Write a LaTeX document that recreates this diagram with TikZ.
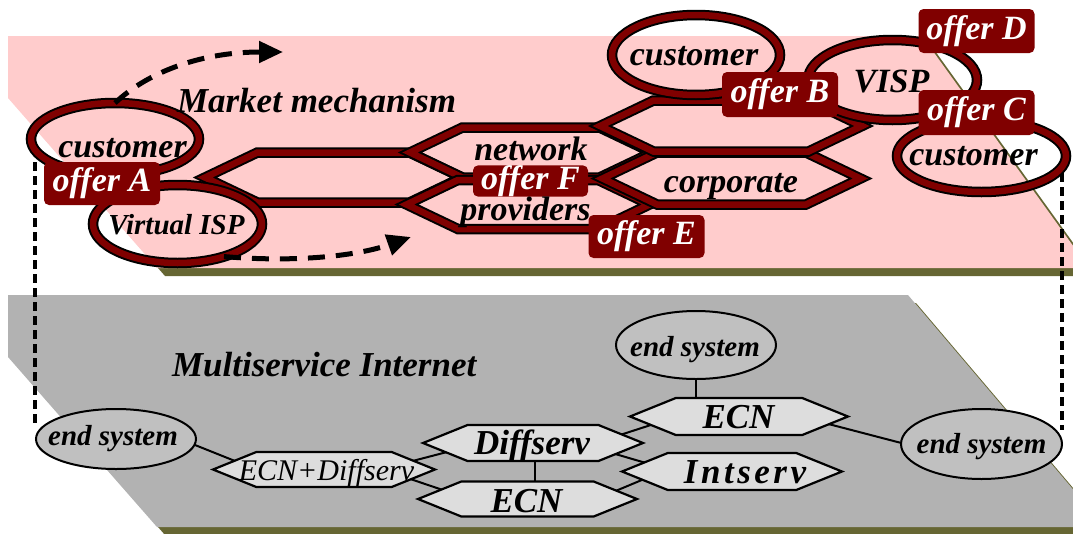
\documentclass[tikz,border=0pt]{standalone}
\usepackage{fontspec}
\setmainfont{Liberation Serif}
\newfontfamily\widebi[LetterSpace=10]{Liberation Serif}
\usetikzlibrary{shapes.geometric,shapes.symbols,arrows.meta,calc}

\definecolor{offerred}{RGB}{128,0,0}
\definecolor{marketpink}{RGB}{255,204,204}
\definecolor{netgray}{RGB}{178,178,178}
\definecolor{edgeolive}{RGB}{102,102,51}
\definecolor{endgray}{RGB}{192,192,192}
\definecolor{hexgray}{RGB}{221,221,221}

\pgfdeclarelayer{planes}
\pgfdeclarelayer{links}
\pgfsetlayers{planes,links,main}

\newcommand{\bisize}[1]{\fontsize{#1}{#1}\selectfont\bfseries\itshape}
\newcommand{\isize}[1]{\fontsize{#1}{#1}\selectfont\itshape}

\begin{document}
\begin{tikzpicture}[x=1pt,y=-1pt,
  every node/.style={inner sep=0pt,outer sep=0pt},
  market/.style={draw=black,line width=2pt,double=offerred,double distance=6.5pt},
  mktell/.style={market,ellipse},
  mkthex/.style={market,signal,signal to=east and west,signal pointer angle=51},
  offer/.style={rectangle,rounded corners=5pt,fill=offerred,text=white,font=\bisize{34},minimum width=116pt},
  mlabel/.style={anchor=base,font=\bisize{34}},
  endsys/.style={ellipse,draw=black,line width=2pt,fill=endgray},
  nethex/.style={signal,signal to=east and west,signal pointer angle=44,draw=black,line width=2.2pt,fill=hexgray,minimum width=220pt,minimum height=36pt},
  nlabel/.style={anchor=base,font=\bisize{35}},
  link/.style={draw=black,line width=2pt},
  tie/.style={draw=black,line width=3.2pt,dash pattern=on 9pt off 5pt},
  flowarrow/.style={draw=black,line width=5pt,dash pattern=on 17pt off 11pt,-{Triangle[length=24pt,width=21pt]}},
]
\useasboundingbox (0,0) rectangle (1073,533);

% the two layers: market plane above, network plane below
\begin{pgfonlayer}{planes}
  \clip (0,0) rectangle (1073,533);
  \fill[edgeolive,shift={(8,8)}] (8,36) -- (922,36) -- (1089,268) -- (157,268) -- (8,98) -- cycle;
  \fill[marketpink] (8,36) -- (922,36) -- (1089,268) -- (157,268) -- (8,98) -- cycle;
  \fill[edgeolive,shift={(8,8)}] (8,295) -- (908,295) -- (1105,527) -- (157,527) -- (8,357) -- cycle;
  \fill[netgray] (8,295) -- (908,295) -- (1105,527) -- (157,527) -- (8,357) -- cycle;
\end{pgfonlayer}

% ---------- market plane ----------
\node[mkthex,minimum width=257pt,minimum height=50pt] (hexa) at (333.5,177.5) {};
\node[mkthex,minimum width=242pt,minimum height=50pt] (netw) at (531,152.5) {};
\node[mkthex,minimum width=243pt,minimum height=49pt] (prov) at (528,204.5) {};
\node[mkthex,minimum width=258pt,minimum height=52pt] (corp) at (731.5,178.5) {};
\node[mkthex,minimum width=262pt,minimum height=51pt] (hexb) at (731,126) {};

\coordinate (mkTop) at (283,52);
\coordinate (mkBot) at (411,237);

\node[mktell,minimum width=168pt,minimum height=72pt] (custL) at (115,139) {};
\node[mktell,minimum width=169pt,minimum height=78pt] (vispL) at (177.5,224) {};
\node[mktell,minimum width=168pt,minimum height=80pt] (custT) at (696,55) {};
\node[mktell,minimum width=169pt,minimum height=80pt] (visp) at (892.5,80) {};
\node[mktell,minimum width=169pt,minimum height=72pt] (custR) at (981.5,156) {};

\draw[flowarrow] (custL.north) .. controls (150,70) and (205,52) .. (mkTop);
\draw[flowarrow] (vispL.-35) .. controls (300,263) and (360,255) .. (mkBot);

\node[offer,minimum height=43pt] (offA) at (102,183.5) {offer A};
\node[offer,minimum height=45pt] (offB) at (780,94.5) {offer B};
\node[offer,minimum height=44pt] (offD) at (976.5,31) {offer D};
\node[offer,minimum height=45pt] (offC) at (976.5,112.5) {offer C};
\node[offer,minimum height=31pt,minimum width=115pt] (offF) at (530.5,181) {offer F};
\node[offer,minimum height=43pt] (offE) at (646.5,236.5) {offer E};

\node[mlabel,font=\bisize{35},anchor=base west] (mkttxt) at (177,112) {Market mechanism};
\node[mlabel] (custLt) at (122.5,157) {customer};
\node[mlabel,font=\bisize{29}] (vispLt) at (176.5,234) {Virtual ISP};
\node[mlabel] (netwt) at (531,160) {network};
\node[mlabel] (provt) at (525.5,220) {providers};
\node[mlabel] (corpt) at (731,192) {corporate};
\node[mlabel] (custTt) at (694,65) {customer};
\node[mlabel] (vispt) at (891.5,92) {VISP};
\node[mlabel] (custRt) at (973.5,165) {customer};

% ---------- network plane ----------
\node[endsys,minimum width=160pt,minimum height=60pt] (esl) at (116,439) {};
\node[endsys,minimum width=160pt,minimum height=68pt] (est) at (696,345) {};
\node[endsys,minimum width=161pt,minimum height=70pt] (esr) at (981.5,444) {};

\node[nethex,minimum width=222pt,minimum height=35pt] (ecnd) at (324,469.5) {};
\node[nethex] (dif) at (533,443) {};
\node[nethex,minimum width=219pt,minimum height=35pt] (ecnb) at (527.5,499) {};
\node[nethex,minimum width=218pt,minimum height=37pt] (ecnu) at (739,416.5) {};
\node[nethex,minimum height=37pt] (ints) at (732,471.5) {};

\node[nlabel,font=\bisize{35},anchor=base west] (mstxt) at (172,376) {Multiservice Internet};
\node[nlabel,font=\bisize{29}] (eslt) at (113,445) {end system};
\node[nlabel,font=\bisize{29}] (estt) at (695,356) {end system};
\node[nlabel,font=\bisize{29}] (esrt) at (981.5,453) {end system};
\node[nlabel,font=\isize{30}] (ecndt) at (326.5,480) {ECN+Diffserv};
\node[nlabel] (dift) at (532,454) {Diffserv};
\node[nlabel] (ecnbt) at (526.5,512) {ECN};
\node[nlabel] (ecnut) at (738.5,428) {ECN};
\node[nlabel,font={\widebi\bisize{35}}] (intst) at (745,483) {Intserv};

% ---------- connectors ----------
\begin{pgfonlayer}{links}
  \draw[link] ($(esl)+(34,-12)$) -- ($(ecnd)+(-64,1.5)$);
  \draw[link] ($(ecnd)+(56,0)$) -- ($(dif)+(-63,3)$);
  \draw[link] ($(ecnd)+(76,6)$) -- ($(ecnb)+(-67,-3)$);
  \draw[link] ($(dif)+(2,0)$) -- ($(ecnb)+(7.5,0)$);
  \draw[link] ($(dif)+(67,-1.5)$) -- ($(ecnu)+(-59,-1)$);
  \draw[link] ($(dif)+(67,6.5)$) -- ($(ints)+(-52,1.5)$);
  \draw[link] ($(ecnb)+(62.5,2.7)$) -- ($(ints)+(-52,-7.5)$);
  \draw[link] (est) -- (est |- ecnu);
  \draw[link] ($(ecnu)+(71,2.7)$) -- ($(esr)+(-61,4)$);
  % ties between the two planes
  \draw[tie] ($(custL)+(-80,23)$) -- ($(esl)+(-81,-12)$);
  \draw[tie] ($(custR)+(80.5,17)$) -- ($(esr)+(80.5,-14)$);
\end{pgfonlayer}
\end{tikzpicture}
\end{document}
